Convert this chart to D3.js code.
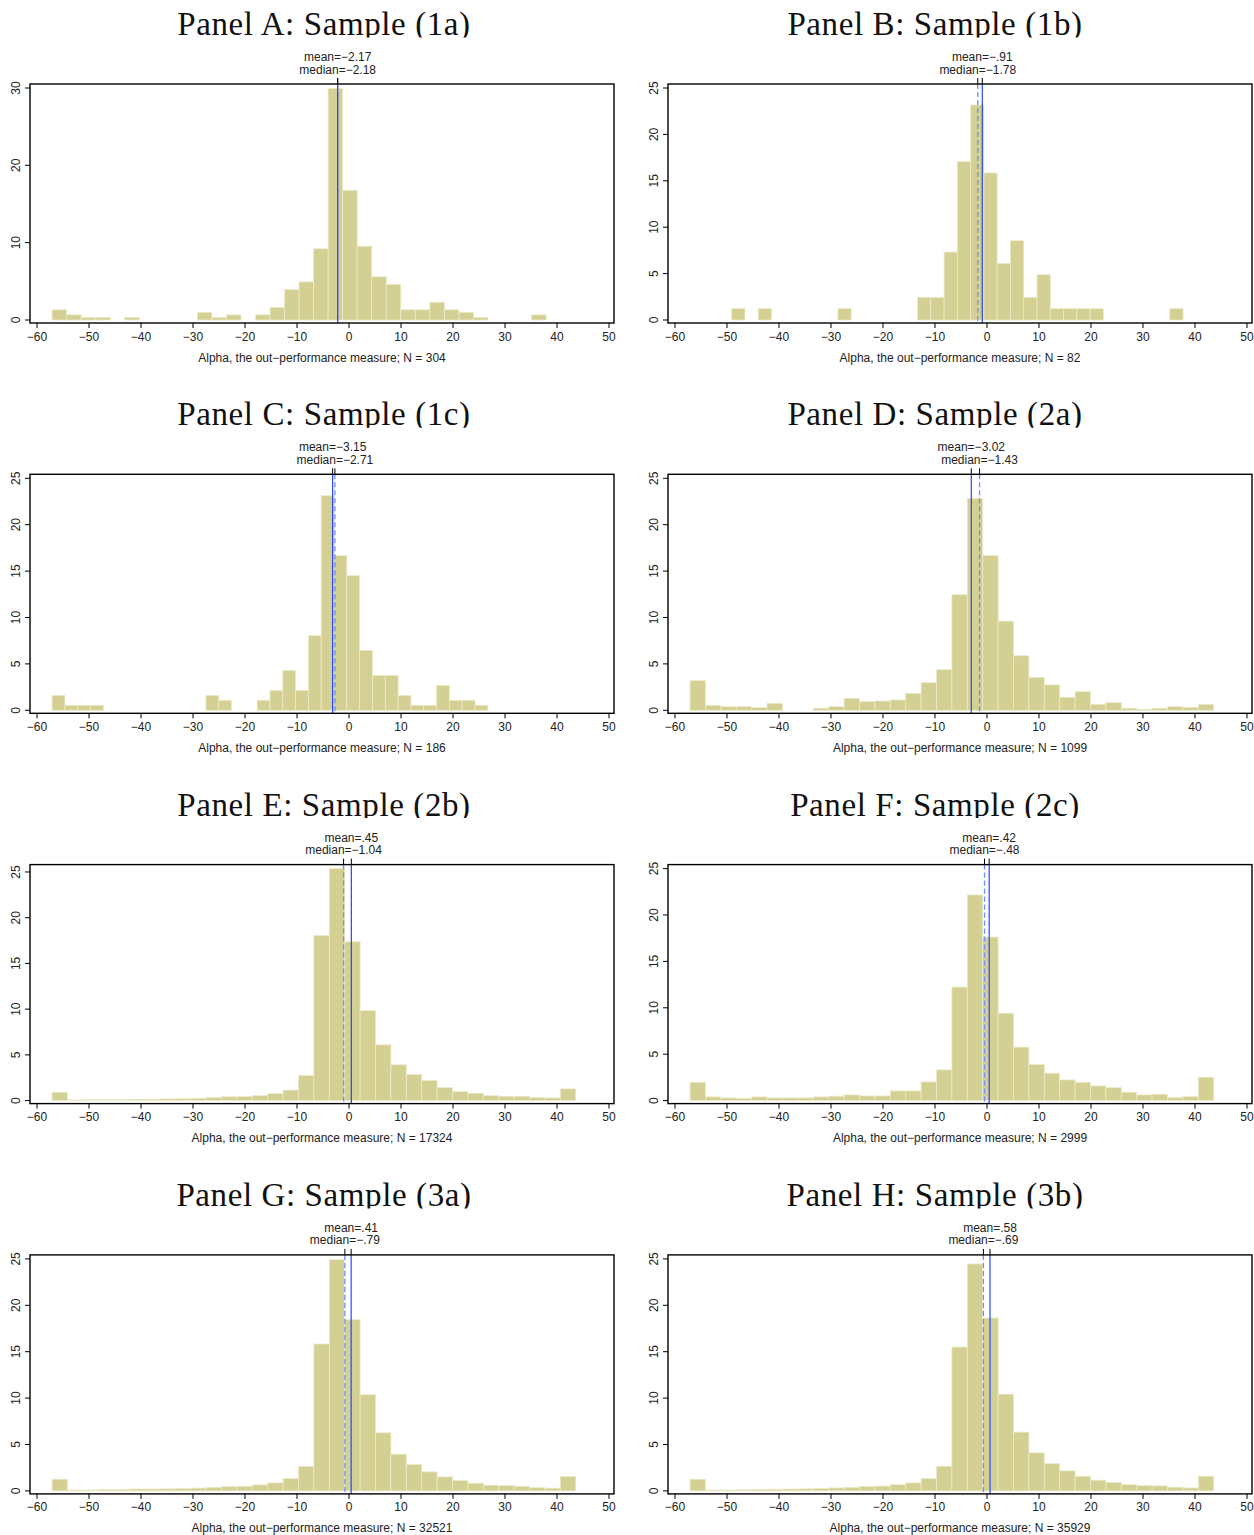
<!DOCTYPE html>
<html>
<head>
<meta charset="utf-8">
<script src="https://cdn.jsdelivr.net/npm/d3@7"></script>
<style>
  body { margin: 0; background: #fff; }
</style>
</head>
<body>
<div id="chart"></div>
<script>
var width = 1254,
    height = 1535;

// DATA
var titles = ["Panel A: Sample (1a)", "Panel B: Sample (1b)", "Panel C: Sample (1c)", "Panel D: Sample (2a)",
              "Panel E: Sample (2b)", "Panel F: Sample (2c)", "Panel G: Sample (3a)", "Panel H: Sample (3b)"];
var sampleN = [304, 82, 186, 1099, 17324, 2999, 32521, 35929];
var means = [-2.17, -0.91, -3.15, -3.02, 0.45, 0.42, 0.41, 0.58];
var medians = [-2.18, -1.78, -2.71, -1.43, -1.04, -0.48, -0.79, -0.69];
var meanText = ["−2.17", "−.91", "−3.15", "−3.02", ".45", ".42", ".41", ".58"];
var medianText = ["−2.18", "−1.78", "−2.71", "−1.43", "−1.04", "−.48", "−.79", "−.69"];
// range of alpha in each sample (34 bins between them)
var alphaMin = [-57.1, -49.1, -57.1, -57.1, -57.1, -57.1, -57.1, -57.1];
var alphaMax = [37.9, 37.7, 26.7, 43.6, 43.6, 43.6, 43.6, 43.6];
var yTickMax = [30, 25, 25, 25, 25, 25, 25, 25];
var yTickStep = [10, 5, 5, 5, 5, 5, 5, 5];
var xTicks = [-60, -50, -40, -30, -20, -10, 0, 10, 20, 30, 40, 50];

// percent of observations in each bin
var pctA = [1.32,0.66,0.33,0.33,0,0.33,0,0,0,0, 0.99,0.33,0.66,0,0.66,1.64,3.95,4.93,9.21,29.93,
            16.78,9.54,5.59,4.61,1.32,1.32,2.30,1.32,0.99,0.33, 0,0,0,0.66];
var pctB = [1.22,0,1.22,0,0,0,0,0,1.22,0, 0,0,0,0,2.44,2.44,7.32,17.07,23.17,15.85,
            6.10,8.54,2.44,4.88,1.22,1.22,1.22,1.22,0,0, 0,0,0,1.22];
var pctC = [1.61,0.54,0.54,0.54,0,0,0,0,0,0, 0,0,1.61,1.08,0,0,1.08,2.15,4.30,2.15,
            8.06,23.12,16.67,14.52,6.45,3.76,3.76,1.61,0.54,0.54, 2.69,1.08,1.08,0.54];
var pctD = [3.19,0.54,0.39,0.39,0.29,0.75,0,0,0.22,0.39, 1.29,0.93,1.00,1.11,1.83,2.98,4.38,12.45,22.81,16.68,
            9.61,5.88,3.55,2.73,1.40,2.01,0.65,0.82,0.22,0.11, 0.22,0.39,0.32,0.65];
var pctE = [0.91,0.07,0.10,0.10,0.12,0.15,0.15,0.18,0.20,0.25, 0.35,0.42,0.45,0.55,0.75,1.15,2.75,18.06,25.37,17.36,
            9.83,6.10,3.91,2.85,2.19,1.43,0.99,0.80,0.55,0.47, 0.47,0.33,0.29,1.28];
var pctF = [1.98,0.40,0.29,0.22,0.40,0.29,0.29,0.29,0.40,0.47, 0.61,0.50,0.50,1.04,1.04,2.01,3.31,12.23,22.16,17.63,
            9.42,5.76,3.88,2.95,2.23,1.98,1.58,1.40,0.90,0.61, 0.68,0.32,0.43,2.52];
var pctG = [1.26,0.10,0.10,0.14,0.16,0.20,0.20,0.22,0.25,0.30, 0.38,0.45,0.50,0.65,0.86,1.33,2.63,15.83,24.93,18.45,
            10.36,6.26,3.96,2.84,2.05,1.51,1.12,0.83,0.61,0.58, 0.50,0.36,0.29,1.55];
var pctH = [1.26,0.10,0.10,0.12,0.16,0.18,0.20,0.22,0.27,0.32, 0.38,0.48,0.52,0.68,0.86,1.33,2.66,15.50,24.46,18.63,
            10.43,6.33,4.10,2.95,2.16,1.58,1.15,0.90,0.68,0.58, 0.54,0.40,0.32,1.58];
var pcts = [pctA, pctB, pctC, pctD, pctE, pctF, pctG, pctH];

// LAYOUT
var colW = 638, rowH = 390.3;
var frame = {left: 30, right: 614, top: 84, bottom: 323};
var barFill = "#d4cf92", barStroke = "#eceac9";
var sans = "'Liberation Sans', Arial, Helvetica, sans-serif";

var svg = d3.select("#chart").append("svg")
    .attr("width", width)
    .attr("height", height);

svg.append("rect").attr("width", width).attr("height", height).attr("fill", "#fff");

var x = d3.scaleLinear().domain([-60, 50]).range([37, 609]);

titles.forEach(function(title, i) {
    var col = i % 2, row = Math.floor(i / 2);
    var g = svg.append("g")
        .attr("transform", "translate(" + (col * colW) + "," + (row * rowH) + ")");

    var vals = pcts[i];
    var nb = vals.length;
    var bw = (alphaMax[i] - alphaMin[i]) / nb;
    var bins = vals.map(function(v, k) {
        return {x0: alphaMin[i] + k * bw, x1: alphaMin[i] + (k + 1) * bw, v: v};
    });

    var yTop = Math.max(yTickMax[i], d3.max(vals));
    var y = d3.scaleLinear().domain([0, yTop]).range([320, 88]);

    // title (clipped at the bottom like the source)
    var clipId = "clip" + i;
    g.append("clipPath").attr("id", clipId)
        .append("rect").attr("x", 0).attr("y", 0).attr("width", colW).attr("height", 37.5);
    g.append("text")
        .attr("clip-path", "url(#" + clipId + ")")
        .attr("x", col === 0 ? 324 : 297)
        .attr("y", 35)
        .attr("text-anchor", "middle")
        .attr("font-family", "'Liberation Serif', 'Times New Roman', serif")
        .attr("font-size", 33)
        .attr("letter-spacing", 0.6)
        .attr("fill", "#111")
        .text(title);

    // bars
    g.append("g").selectAll("rect")
        .data(bins.filter(function(d) { return d.v > 0; }))
        .enter().append("rect")
        .attr("x", function(d) { return x(d.x0); })
        .attr("width", function(d) { return x(d.x1) - x(d.x0); })
        .attr("y", function(d) { return y(d.v); })
        .attr("height", function(d) { return y(0) - y(d.v); })
        .attr("fill", barFill)
        .attr("stroke", barStroke)
        .attr("stroke-width", 0.8);

    // mean (solid) and median (dashed) lines
    g.append("line")
        .attr("x1", x(medians[i])).attr("x2", x(medians[i]))
        .attr("y1", frame.top).attr("y2", frame.bottom)
        .attr("stroke", "#6f8cff").attr("stroke-width", 1.3)
        .attr("stroke-dasharray", "5,3");
    g.append("line")
        .attr("x1", x(means[i])).attr("x2", x(means[i]))
        .attr("y1", frame.top).attr("y2", frame.bottom)
        .attr("stroke", "#2446ff").attr("stroke-width", 1.2);

    // frame
    g.append("rect")
        .attr("x", frame.left).attr("y", frame.top)
        .attr("width", frame.right - frame.left)
        .attr("height", frame.bottom - frame.top)
        .attr("fill", "none")
        .attr("stroke", "#000")
        .attr("stroke-width", 1.4);

    // top axis: mean and median marks
    [means[i], medians[i]].forEach(function(v) {
        g.append("line")
            .attr("x1", x(v)).attr("x2", x(v))
            .attr("y1", frame.top - 6).attr("y2", frame.top)
            .attr("stroke", "#000").attr("stroke-width", 1);
    });
    g.append("text")
        .attr("x", x(means[i])).attr("y", 61)
        .attr("text-anchor", "middle")
        .attr("font-family", sans).attr("font-size", 12).attr("fill", "#222")
        .text("mean=" + meanText[i]);
    g.append("text")
        .attr("x", x(medians[i])).attr("y", 73.5)
        .attr("text-anchor", "middle")
        .attr("font-family", sans).attr("font-size", 12).attr("fill", "#222")
        .text("median=" + medianText[i]);

    // x axis
    var xa = g.append("g");
    xa.selectAll("line").data(xTicks).enter().append("line")
        .attr("x1", function(d) { return x(d); }).attr("x2", function(d) { return x(d); })
        .attr("y1", frame.bottom).attr("y2", frame.bottom + 5)
        .attr("stroke", "#000").attr("stroke-width", 1);
    xa.selectAll("text").data(xTicks).enter().append("text")
        .attr("x", function(d) { return x(d); })
        .attr("y", 340.5)
        .attr("text-anchor", "middle")
        .attr("font-family", sans).attr("font-size", 12).attr("fill", "#222")
        .text(function(d) { return d < 0 ? "−" + Math.abs(d) : d; });

    g.append("text")
        .attr("x", (frame.left + frame.right) / 2)
        .attr("y", 361.5)
        .attr("text-anchor", "middle")
        .attr("font-family", sans).attr("font-size", 12).attr("fill", "#222")
        .text("Alpha, the out−performance measure; N = " + sampleN[i]);

    // y axis
    var yTicks = d3.range(0, yTickMax[i] + 0.01, yTickStep[i]);
    var ya = g.append("g");
    ya.selectAll("line").data(yTicks).enter().append("line")
        .attr("x1", frame.left - 5).attr("x2", frame.left)
        .attr("y1", function(d) { return y(d); }).attr("y2", function(d) { return y(d); })
        .attr("stroke", "#000").attr("stroke-width", 1);
    ya.selectAll("text").data(yTicks).enter().append("text")
        .attr("transform", function(d) { return "translate(19.5," + y(d) + ") rotate(-90)"; })
        .attr("text-anchor", "middle")
        .attr("font-family", sans).attr("font-size", 12).attr("fill", "#222")
        .text(function(d) { return d; });
});
</script>
</body>
</html>
